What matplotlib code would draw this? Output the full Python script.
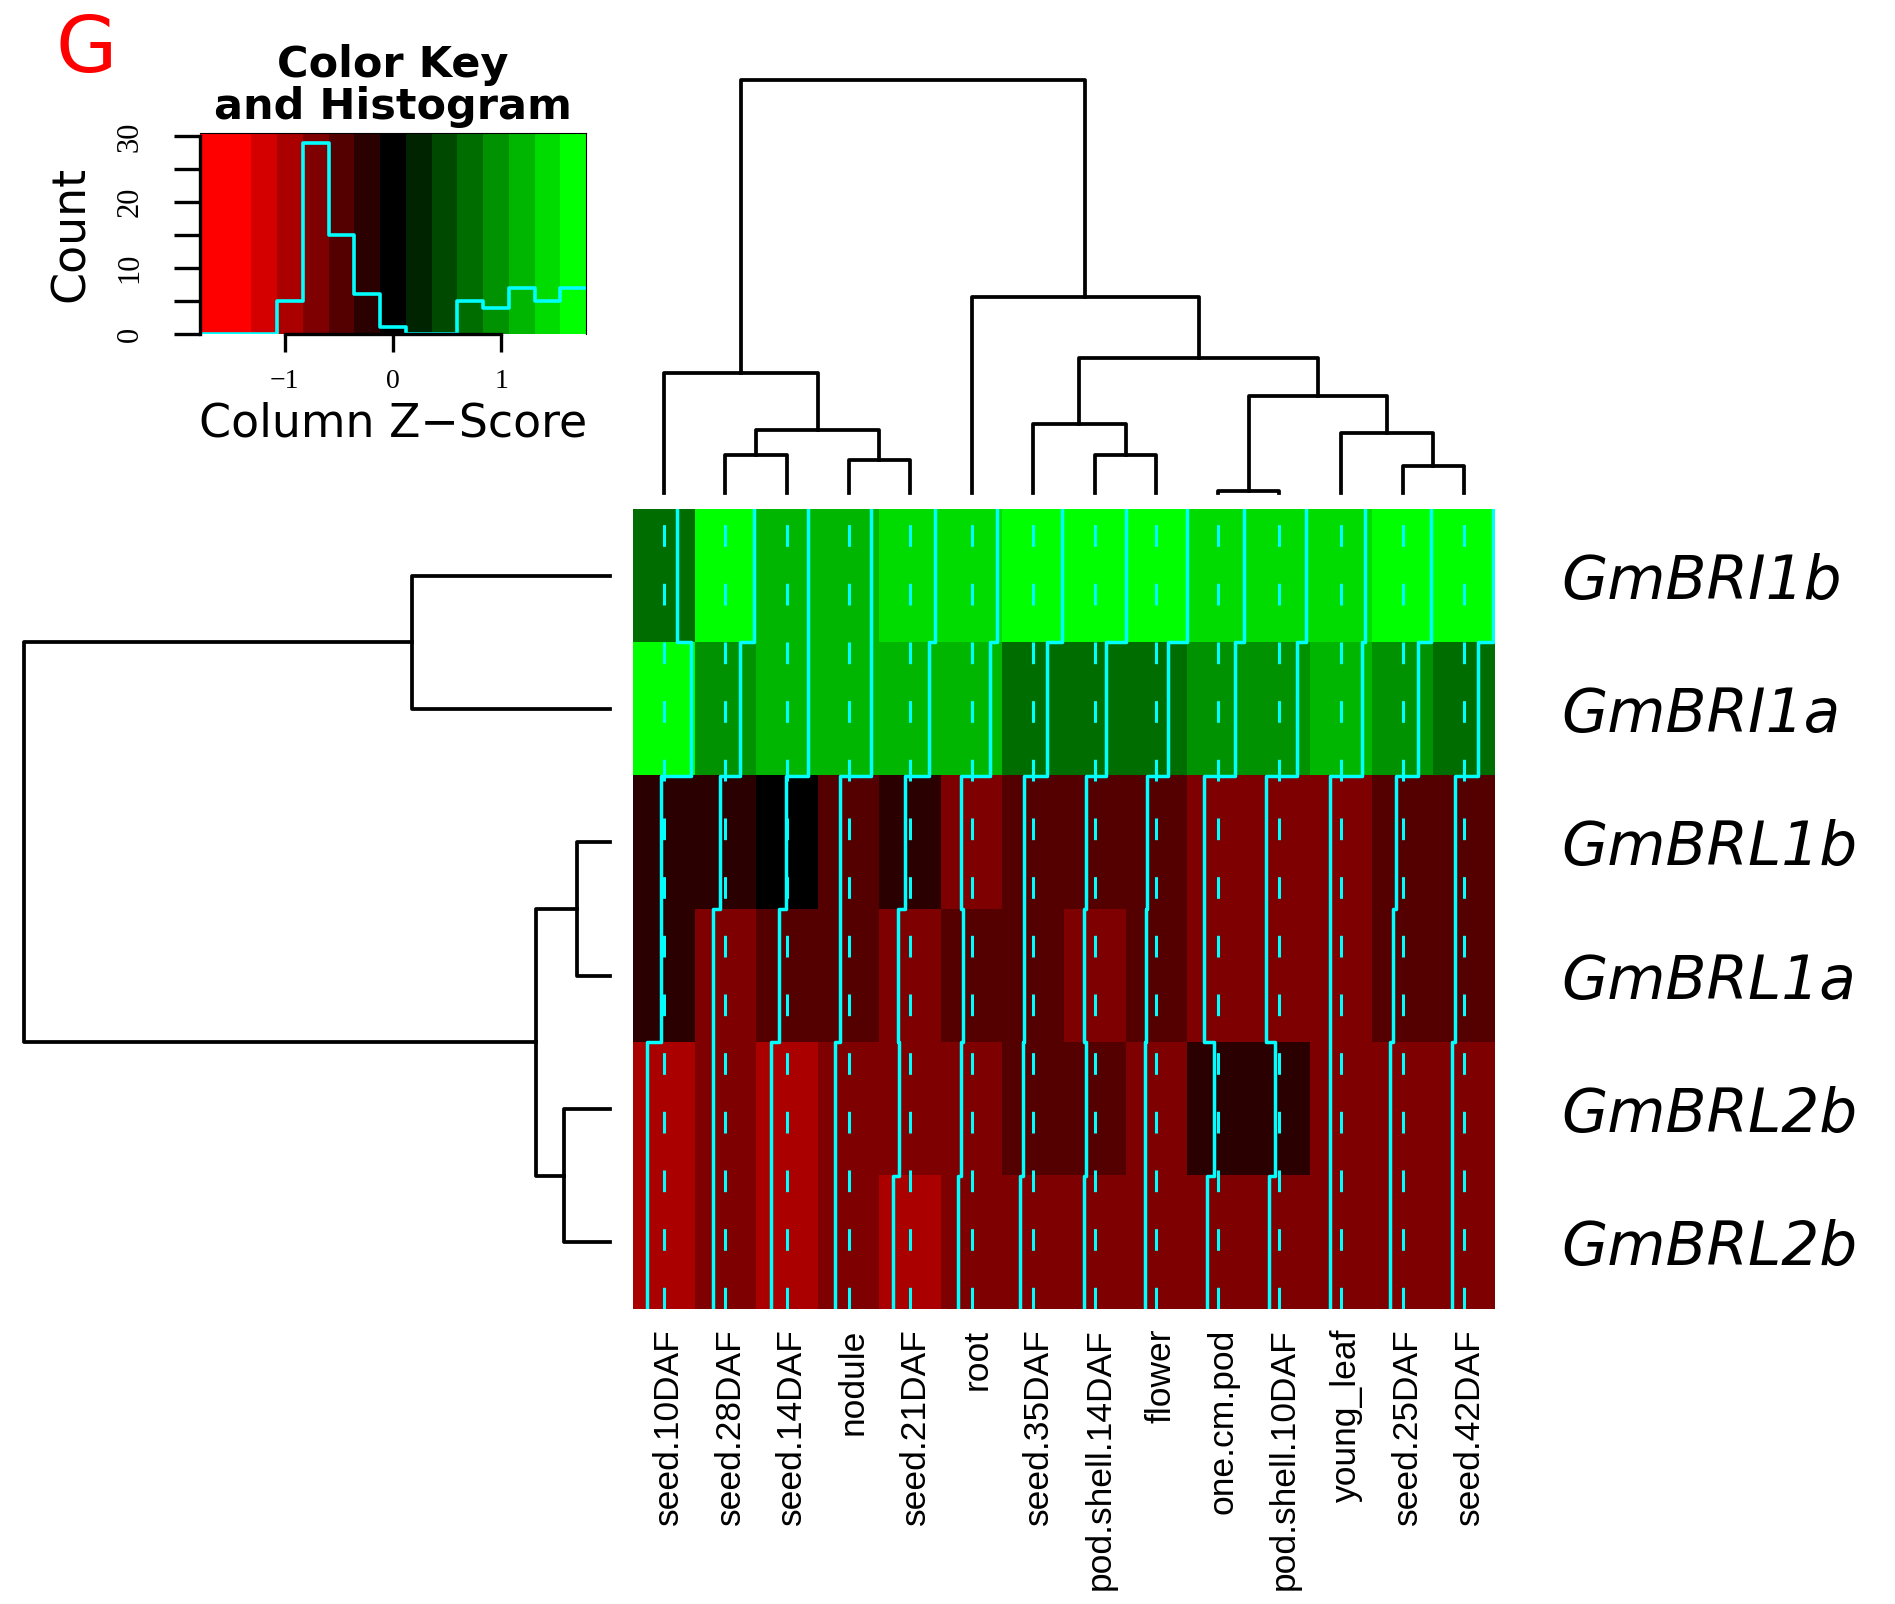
import numpy as np
import matplotlib
matplotlib.use('Agg')
from matplotlib import pyplot as plt
from matplotlib.colors import ListedColormap
from matplotlib.transforms import ScaledTranslation

# column order as displayed (dendrogram order)
samples = ['seed.10DAF', 'seed.28DAF', 'seed.14DAF', 'nodule', 'seed.21DAF',
           'root', 'seed.35DAF', 'pod.shell.14DAF', 'flower', 'one.cm.pod',
           'pod.shell.10DAF', 'young_leaf', 'seed.25DAF', 'seed.42DAF']
genes = ['GmBRI1b', 'GmBRI1a', 'GmBRL1b', 'GmBRL1a', 'GmBRL2b', 'GmBRL2b']

# column z-scores, rows top to bottom
z_bri1b = [0.77, 1.68, 1.23, 1.29, 1.45, 1.48, 1.66, 1.78, 1.78, 1.52, 1.53, 1.40, 1.65, 1.69]
z_bri1a = [1.58, 0.86, 1.22, 1.29, 1.10, 1.09, 0.81, 0.67, 0.67, 1.00, 1.04, 1.23, 0.90, 0.80]
z_brl1b = [-0.14, -0.29, -0.03, -0.48, -0.28, -0.62, -0.56, -0.53, -0.53, -0.81, -0.78, -0.64, -0.40, -0.51]
z_brl1a = [-0.14, -0.73, -0.47, -0.48, -0.67, -0.51, -0.56, -0.62, -0.57, -0.81, -0.78, -0.64, -0.55, -0.51]
z_brl2b_1 = [-0.97, -0.71, -0.92, -0.77, -0.63, -0.62, -0.57, -0.53, -0.64, -0.24, -0.26, -0.64, -0.74, -0.70]
z_brl2b_2 = [-0.97, -0.71, -0.92, -0.77, -0.98, -0.78, -0.75, -0.62, -0.64, -0.62, -0.62, -0.64, -0.74, -0.70]

# dendrograms: (child a, child b, height), new nodes numbered after leaves
col_merges = [(1, 2, 0.092), (3, 4, 0.079), (14, 15, 0.152), (0, 16, 0.290),
              (7, 8, 0.092), (6, 18, 0.166), (9, 10, 0.003), (12, 13, 0.065),
              (11, 21, 0.145), (20, 22, 0.233), (19, 23, 0.325), (5, 24, 0.475),
              (17, 25, 1.0)]
row_merges = [(0, 1, 0.337), (2, 3, 0.055), (4, 5, 0.077), (7, 8, 0.125), (6, 9, 1.0)]

key_colors = ['#FF0000', '#FF0000', '#D40000', '#AA0000', '#7F0000', '#550000',
              '#2A0000', '#000000', '#002400', '#004900', '#006D00', '#009200',
              '#00B600', '#00DB00', '#00FF00']

values = np.array([z_bri1b, z_bri1a, z_brl1b, z_brl1a, z_brl2b_1, z_brl2b_2])
nrow, ncol = values.shape
extreme = np.abs(values).max()
breaks = np.linspace(-extreme, extreme, len(key_colors) + 1)
bins = np.clip(np.searchsorted(breaks, values, side='right') - 1, 0, len(key_colors) - 1)
cmap = ListedColormap(key_colors)

W, H = 1895, 1604
fig = plt.figure(figsize=(W / 100, H / 100), dpi=100)


def px_axes(left, top, right, bottom):
    return fig.add_axes([left / W, 1 - bottom / H, (right - left) / W, (bottom - top) / H])


def draw_dendro(ax, merges, n, side):
    pos = {i: i + 0.5 for i in range(n)}
    hgt = {i: 0.0 for i in range(n)}
    for k, (a, b, h) in enumerate(merges):
        xs = [pos[a], pos[a], pos[b], pos[b]]
        ys = [hgt[a], h, h, hgt[b]]
        if side == 'top':
            ax.plot(xs, ys, color='black', lw=2.7)
        else:
            ax.plot(ys, xs, color='black', lw=2.7)
        pos[n + k] = (pos[a] + pos[b]) / 2
        hgt[n + k] = h


# heatmap
ax_h = px_axes(633, 509, 1495, 1309)
ax_h.imshow(bins, cmap=cmap, vmin=-0.5, vmax=len(key_colors) - 0.5, aspect='auto',
            interpolation='nearest', extent=(0, ncol, nrow, 0))
for i in range(ncol):
    ax_h.plot([i + 0.5, i + 0.5], [nrow, 0], color='cyan', lw=2.2, dashes=(7.1, 12.1))
    xs = i + (values[:, i] - breaks[0]) / (breaks[-1] - breaks[0])
    px, py = [], []
    for r in range(nrow):
        px += [xs[r], xs[r]]
        py += [r, r + 1]
    ax_h.plot(px, py, color='cyan', lw=2.5)
ax_h.set_xlim(0, ncol)
ax_h.set_ylim(nrow, 0)
for s in ax_h.spines.values():
    s.set_visible(False)

ax_h.set_xticks(np.arange(ncol) + 0.5)
ax_h.set_xticklabels(samples, rotation=90, ha='center', va='top',
                     fontsize=25.5, family='Liberation Sans')
ax_h.tick_params(axis='x', length=0, pad=14)
for lab in ax_h.get_xticklabels():
    lab.set_transform(lab.get_transform() + ScaledTranslation(0.05, 0, fig.dpi_scale_trans))

ax_h.yaxis.tick_right()
ax_h.set_yticks(np.arange(nrow) + 0.5)
ax_h.set_yticklabels(genes, fontsize=43, style='italic', family='DejaVu Sans')
ax_h.tick_params(axis='y', length=0, pad=48)

# column dendrogram
ax_c = px_axes(633, 63.5, 1495, 509)
draw_dendro(ax_c, col_merges, ncol, 'top')
top = max(m[2] for m in col_merges)
ax_c.set_xlim(0, ncol)
ax_c.set_ylim(-0.04 * top, 1.04 * top)
ax_c.axis('off')

# row dendrogram
ax_r = px_axes(0.6, 509, 633, 1309)
draw_dendro(ax_r, row_merges, nrow, 'left')
top = max(m[2] for m in row_merges)
ax_r.set_xlim(1.04 * top, -0.04 * top)
ax_r.set_ylim(nrow, 0)
ax_r.axis('off')

# colour key with histogram
counts, _ = np.histogram(values.ravel(), bins=breaks)
ytop = counts.max() / 0.95
ax_k = px_axes(200, 133, 586, 334)
ax_k.pcolormesh(breaks, [0, ytop], np.arange(len(key_colors))[None, :], cmap=cmap,
                vmin=-0.5, vmax=len(key_colors) - 0.5)
ax_k.step(breaks, np.append(counts, counts[-1]), where='post', color='cyan', lw=2.6)
ax_k.set_xlim(breaks[0], breaks[-1])
ax_k.set_ylim(0, ytop)

xt = [-1, 0, 1]
ax_k.set_xticks(xt)
ax_k.set_xticklabels([str(t).replace('-', '\u2212') for t in xt],
                     fontsize=20, family='Liberation Serif')
ax_k.tick_params(axis='x', length=13, width=2.4, pad=12)
yt = np.arange(0, counts.max() + 5, 5)
ax_k.set_yticks(yt)
ax_k.set_yticklabels([str(t) if t % 10 == 0 else '' for t in yt], rotation=90,
                     va='center', fontsize=22, family='Liberation Serif')
ax_k.tick_params(axis='y', length=19, width=2.4, pad=21)
ax_k.spines['left'].set_bounds(0, yt[-1])
ax_k.spines['left'].set_linewidth(2.4)
ax_k.spines['bottom'].set_bounds(xt[0], xt[-1])
ax_k.spines['bottom'].set_linewidth(2.4)
ax_k.spines['top'].set_linewidth(0.8)
ax_k.spines['right'].set_linewidth(0.8)

ax_k.set_xlabel('Column Z\u2212Score', fontsize=33, family='DejaVu Sans')
ax_k.xaxis.set_label_coords(0.5, (334 - 424) / 201)
ax_k.xaxis.label.set_va('center')
ax_k.set_ylabel('Count', fontsize=33, family='DejaVu Sans')
ax_k.yaxis.set_label_coords((71 - 200) / 386, 0.5)
ax_k.yaxis.label.set_va('center')
ax_k.text(0.5, (334 - 86) / 201, 'Color Key\nand Histogram', transform=ax_k.transAxes,
          ha='center', va='center', fontsize=31, fontweight='bold',
          family='DejaVu Sans', linespacing=1.0)

fig.text(86 / W, 1 - 50 / H, 'G', color='red', fontsize=57, ha='center', va='center',
         family='DejaVu Sans')

fig.savefig('out.png', dpi=100)
